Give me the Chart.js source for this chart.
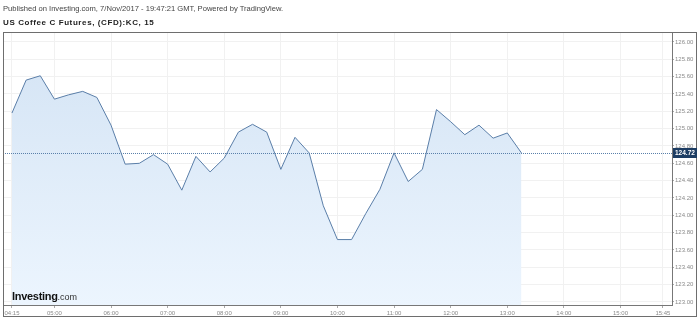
<!DOCTYPE html>
<html><head><meta charset="utf-8">
<script src="https://cdn.jsdelivr.net/npm/chart.js@4"></script>
<style>
html,body{margin:0;padding:0;background:#fff;width:700px;height:319px;overflow:hidden;}
#wrap{position:relative;width:700px;height:319px;}
canvas{position:absolute;left:0;top:0;}
.t1{position:absolute;left:3px;top:4px;font:7.6px "Liberation Sans",Arial,sans-serif;color:#444;white-space:nowrap;}
.t2{position:absolute;left:3px;top:18px;font:bold 8px "Liberation Sans",Arial,sans-serif;color:#222;white-space:nowrap;letter-spacing:0.6px;}
.logo{position:absolute;left:12px;top:290px;font:bold 11px "Liberation Sans",Arial,sans-serif;color:#111;white-space:nowrap;letter-spacing:-0.3px;}
.logo span{font:9px "Liberation Sans",Arial,sans-serif;color:#333;letter-spacing:0;}
</style></head>
<body><div id="wrap">
<canvas id="c" width="700" height="319"></canvas>
<div class="t1">Published on Investing.com, 7/Nov/2017 - 19:47:21 GMT, Powered by TradingView.</div>
<div class="t2">US Coffee C Futures, (CFD):KC, 15</div>
<div class="logo">Investing<span>.com</span></div>
</div>
<script>
const times = ['04:15','04:30','04:45','05:00','05:15','05:30','05:45','06:00','06:15','06:30','06:45','07:00','07:15','07:30','07:45','08:00','08:15','08:30','08:45','09:00','09:15','09:30','09:45','10:00','10:15','10:30','10:45','11:00','11:15','11:30','11:45','12:00','12:15','12:30','12:45','13:00','13:15'];
const prices = [125.18,125.56,125.61,125.34,125.39,125.43,125.36,125.04,124.59,124.60,124.70,124.59,124.29,124.68,124.50,124.66,124.96,125.05,124.96,124.53,124.90,124.72,124.11,123.72,123.72,124.02,124.30,124.72,124.39,124.53,125.22,125.08,124.93,125.04,124.89,124.95,124.72];
const xTickLabels = ['04:15','05:00','06:00','07:00','08:00','09:00','10:00','11:00','12:00','13:00','14:00','15:00','15:45'];
const yTicks = [123.00,123.20,123.40,123.60,123.80,124.00,124.20,124.40,124.60,124.80,125.00,125.20,125.40,125.60,125.80,126.00];
const lastPrice = 124.72;

const toMin = s => { const [h,m] = s.split(':').map(Number); return h*60+m; };
const fmt = v => { const h = Math.floor(v/60), m = Math.round(v - h*60); return String(h).padStart(2,'0')+':'+String(m).padStart(2,'0'); };
const pts = times.map((t,i)=>({x:toMin(t), y:prices[i]}));

const framePlugin = {
  id:'frame',
  afterDatasetsDraw(chart){
    const {ctx, chartArea:a, scales:{y}} = chart;
    const yy = Math.round(y.getPixelForValue(lastPrice))+0.5;
    ctx.save();
    ctx.strokeStyle = '#5a80aa';
    ctx.lineWidth = 1;
    ctx.setLineDash([1,1]);
    ctx.beginPath(); ctx.moveTo(a.left, yy); ctx.lineTo(a.right, yy); ctx.stroke();
    ctx.restore();
  },
  afterDraw(chart){
    const {ctx, chartArea:a, scales:{y}} = chart;
    ctx.save();
    ctx.strokeStyle = '#6e6e6e';
    ctx.lineWidth = 1;
    ctx.strokeRect(3.5, 32.5, 693, 284);
    const yy = Math.round(y.getPixelForValue(lastPrice));
    ctx.fillStyle = '#1d3d63';
    ctx.fillRect(a.right+1, yy-5, 24, 10);
    ctx.fillStyle = '#fff';
    ctx.font = 'bold 6.5px "Liberation Sans", Arial, sans-serif';
    ctx.textBaseline = 'middle';
    ctx.textAlign = 'left';
    ctx.fillText(lastPrice.toFixed(2), a.right+3, yy+0.5);
    ctx.restore();
  }
};

new Chart(document.getElementById('c'), {
  type:'line',
  data:{ datasets:[{
    data: pts,
    borderColor:'#5a7ea8',
    borderWidth:1,
    pointRadius:0,
    tension:0,
    fill:'start',
    backgroundColor:(c)=>{
      const ch = c.chart, a = ch.chartArea;
      if(!a) return 'rgba(215,230,245,1)';
      const g = ch.ctx.createLinearGradient(0,a.top,0,a.bottom);
      g.addColorStop(0,'rgb(211,227,244)');
      g.addColorStop(1,'rgb(236,245,254)');
      return g;
    }
  }]},
  options:{
    responsive:false, animation:false, devicePixelRatio:1,
    layout:{padding:{left:3,top:32,right:3,bottom:2}},
    plugins:{legend:{display:false}, tooltip:{enabled:false}},
    scales:{
      x:{
        type:'linear', min:245.5, max:954.6,
        afterBuildTicks:(s)=>{ s.ticks = xTickLabels.map(l=>({value:toMin(l)})); },
        afterFit:(s)=>{ s.height = 12; },
        grid:{color:'#f1f1f1', tickColor:'#aaa', tickLength:3, drawOnChartArea:true},
        border:{color:'#777'},
        ticks:{callback:(v)=>fmt(v), font:{size:6, family:'"Liberation Sans", Arial, sans-serif'}, color:'#8a8a8a', padding:2, maxRotation:0, autoSkip:false}
      },
      y:{
        position:'right', min:122.965, max:126.115,
        afterBuildTicks:(s)=>{ s.ticks = yTicks.map(v=>({value:v})); },
        afterFit:(s)=>{ s.width = 25; },
        grid:{color:'#f1f1f1', tickColor:'#aaa', tickLength:2},
        border:{color:'#777'},
        ticks:{callback:(v)=>Number(v).toFixed(2), font:{size:6, family:'"Liberation Sans", Arial, sans-serif'}, color:'#8a8a8a', padding:1, autoSkip:false}
      }
    }
  },
  plugins:[framePlugin]
});
</script>
</body></html>
